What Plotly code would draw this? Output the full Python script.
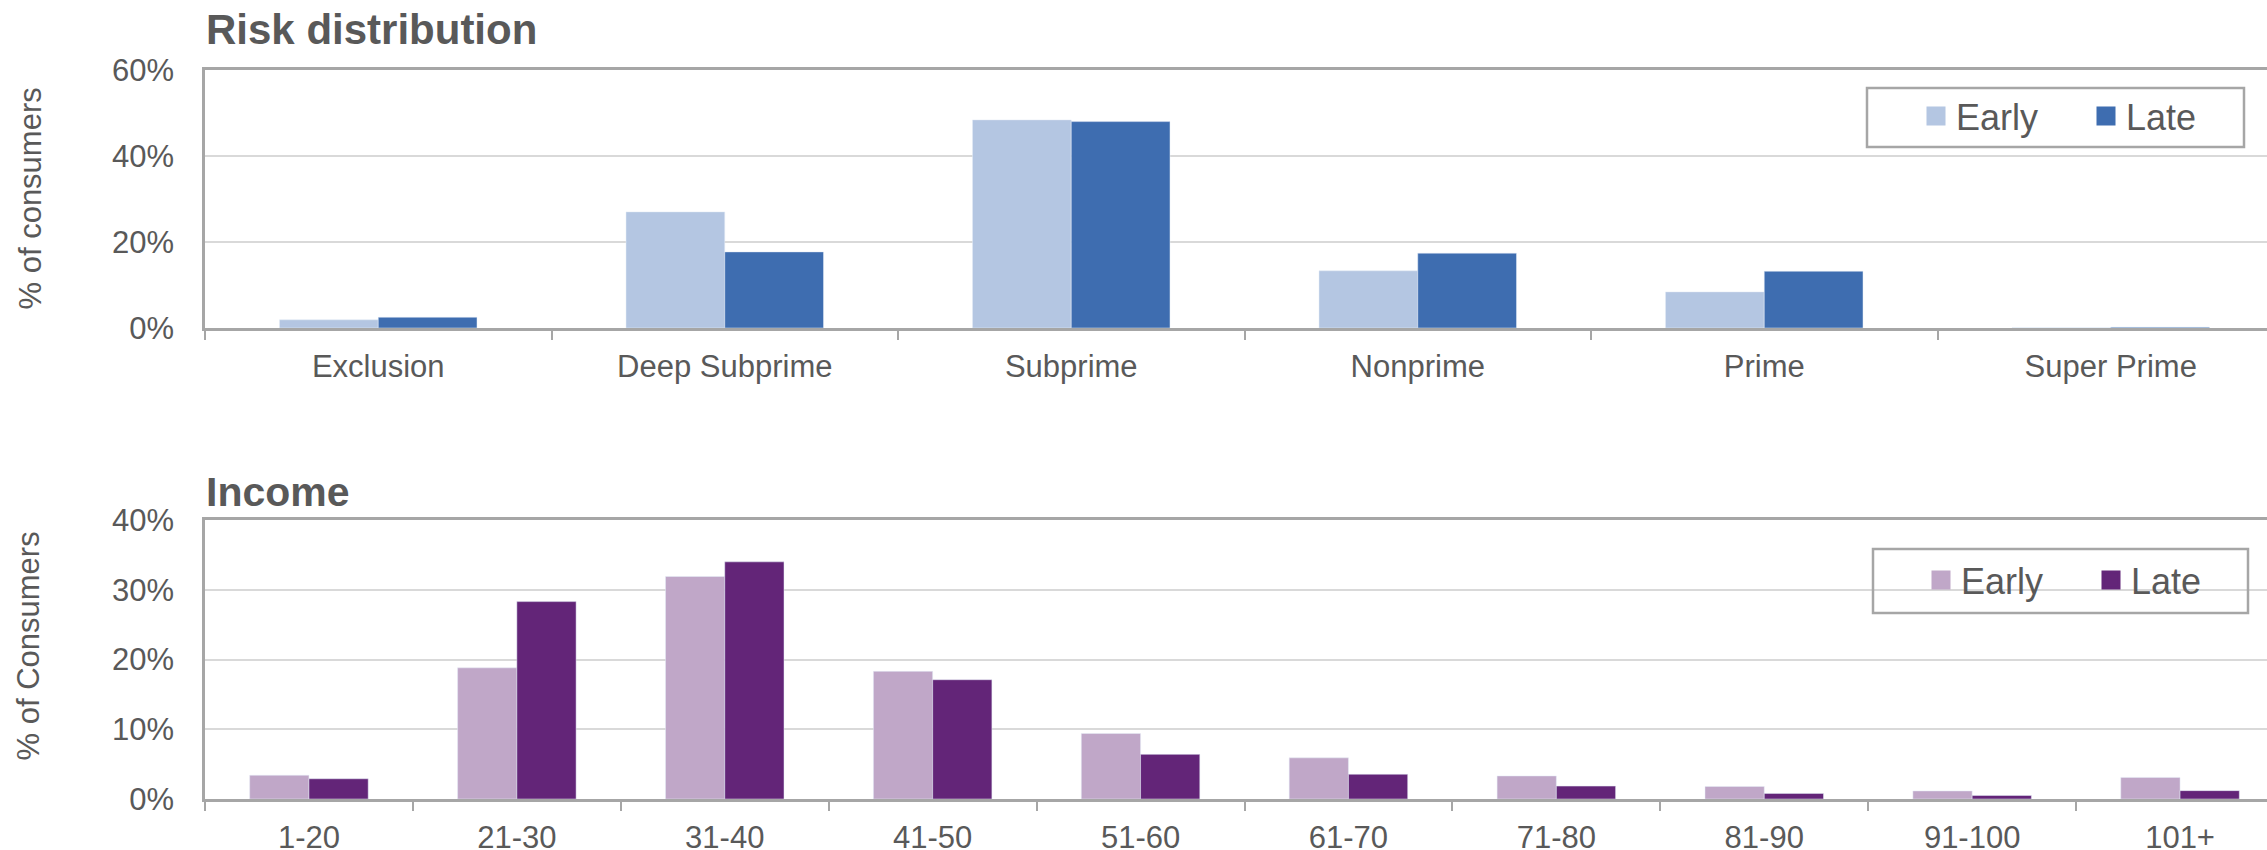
import plotly.graph_objects as go

# Risk tier distribution (% of consumers)
risk_categories = ["Exclusion", "Deep Subprime", "Subprime", "Nonprime", "Prime", "Super Prime"]
risk_early = [1.9, 27.0, 48.4, 13.3, 8.4, 0.05]
risk_late = [2.5, 17.7, 48.0, 17.4, 13.2, 0.2]

# Income bands, $000s (% of consumers)
income_categories = ["1-20", "21-30", "31-40", "41-50", "51-60", "61-70", "71-80", "81-90", "91-100", "101+"]
income_early = [3.4, 18.8, 31.9, 18.3, 9.4, 5.9, 3.3, 1.8, 1.15, 3.1]
income_late = [2.9, 28.3, 34.0, 17.1, 6.4, 3.55, 1.85, 0.8, 0.5, 1.2]

risk_ticks = [0, 20, 40, 60]
risk_tick_labels = ["0%", "20%", "40%", "60%"]
income_ticks = [0, 10, 20, 30, 40]
income_tick_labels = ["0%", "10%", "20%", "30%", "40%"]

FONT = "Liberation Sans, Arial, sans-serif"
TEXT = "#595959"
AXIS = "#A6A6A6"
GRID = "#D9D9D9"

RISK_EARLY_C, RISK_LATE_C = "#B4C6E2", "#3E6DB0"
INC_EARLY_C, INC_LATE_C = "#C0A7C8", "#632578"

W, H = 2267, 850
ML, MR, MT, MB = 205, 0, 70, 51
PW, PH = W - ML - MR, H - MT - MB


def py(pix):
    """pixel row -> paper y fraction"""
    return (H - MB - pix) / PH


def px(pix):
    """pixel column -> paper x fraction"""
    return (pix - ML) / PW


fig = go.Figure()

fig.add_trace(go.Bar(x=risk_categories, y=risk_early, name="Early", marker_color=RISK_EARLY_C,
                     xaxis="x", yaxis="y", showlegend=False))
fig.add_trace(go.Bar(x=risk_categories, y=risk_late, name="Late", marker_color=RISK_LATE_C,
                     xaxis="x", yaxis="y", showlegend=False))
fig.add_trace(go.Bar(x=income_categories, y=income_early, name="Early", marker_color=INC_EARLY_C,
                     xaxis="x2", yaxis="y2", showlegend=False))
fig.add_trace(go.Bar(x=income_categories, y=income_late, name="Late", marker_color=INC_LATE_C,
                     xaxis="x2", yaxis="y2", showlegend=False))

# legend swatches
for name, col, lg, ax in [("Early", RISK_EARLY_C, "legend", "y"), ("Late", RISK_LATE_C, "legend", "y"),
                          ("Early", INC_EARLY_C, "legend2", "y2"), ("Late", INC_LATE_C, "legend2", "y2")]:
    fig.add_trace(go.Scatter(x=[None], y=[None], mode="markers", name=name, legend=lg,
                             xaxis="x" if ax == "y" else "x2", yaxis=ax,
                             marker=dict(symbol="square", size=16, color=col, line=dict(color=col, width=3))))

top_dom = [py(328), 1.0]
bot_dom = [0.0, py(520)]

common_x = dict(type="category", showline=True, linecolor=AXIS, linewidth=2.5, mirror=True,
                ticks="outside", tickson="boundaries", ticklen=9, tickwidth=1.5, tickcolor=AXIS,
                showgrid=False, tickfont=dict(family=FONT, size=31, color=TEXT), ticklabelstandoff=9,
                fixedrange=True, automargin=False)
common_y = dict(showline=True, linecolor=AXIS, linewidth=2.5, mirror=False, ticks="",
                showgrid=True, gridcolor=GRID, gridwidth=1.5, zeroline=False, tickmode="array",
                tickfont=dict(family=FONT, size=31, color=TEXT), ticklabelstandoff=22, automargin=False)

fig.update_layout(
    width=W, height=H,
    margin=dict(l=ML, r=MR, t=MT, b=MB),
    paper_bgcolor="white", plot_bgcolor="white",
    barmode="group", bargap=0.43, bargroupgap=0,
    xaxis=dict(common_x, domain=[0, 1], anchor="y", range=[-0.5, -0.5 + PW / 346.5]),
    yaxis=dict(common_y, domain=top_dom, anchor="x", range=[0, 60],
               tickvals=risk_ticks, ticktext=risk_tick_labels),
    xaxis2=dict(common_x, domain=[0, 1], anchor="y2", range=[-0.5, -0.5 + PW / 207.9]),
    yaxis2=dict(common_y, domain=bot_dom, anchor="x2", range=[0, 40],
                tickvals=income_ticks, ticktext=income_tick_labels),
    legend=dict(orientation="h", x=px(1916), y=py(86), xanchor="left", yanchor="top",
                bgcolor="rgba(0,0,0,0)", borderwidth=0, itemsizing="trace", entrywidth=125,
                font=dict(family=FONT, size=36, color=TEXT)),
    legend2=dict(orientation="h", x=px(1921), y=py(550), xanchor="left", yanchor="top",
                 bgcolor="rgba(0,0,0,0)", borderwidth=0, itemsizing="trace", entrywidth=125,
                 font=dict(family=FONT, size=36, color=TEXT)),
    shapes=[
        dict(type="rect", xref="paper", yref="paper", x0=px(1867), x1=px(2244), y0=py(147), y1=py(88),
             line=dict(color=AXIS, width=2.5), fillcolor="rgba(0,0,0,0)"),
        dict(type="rect", xref="paper", yref="paper", x0=px(1873), x1=px(2248), y0=py(613), y1=py(549),
             line=dict(color=AXIS, width=2.5), fillcolor="rgba(0,0,0,0)"),
    ],
    annotations=[
        dict(text="<b>Risk distribution</b>", xref="paper", yref="paper", x=px(204), y=py(30),
             xanchor="left", yanchor="middle", showarrow=False, font=dict(family=FONT, size=42, color=TEXT)),
        dict(text="<b>Income</b>", xref="paper", yref="paper", x=px(204), y=py(492.5),
             xanchor="left", yanchor="middle", showarrow=False, font=dict(family=FONT, size=41, color=TEXT)),
        dict(text="% of consumers", xref="paper", yref="paper", x=px(30), y=py(198.5), textangle=-90,
             xanchor="center", yanchor="middle", showarrow=False, font=dict(family=FONT, size=31, color=TEXT)),
        dict(text="% of Consumers", xref="paper", yref="paper", x=px(28), y=py(646.5), textangle=-90,
             xanchor="center", yanchor="middle", showarrow=False, font=dict(family=FONT, size=31, color=TEXT)),
    ],
)

fig.write_html("out.html")
